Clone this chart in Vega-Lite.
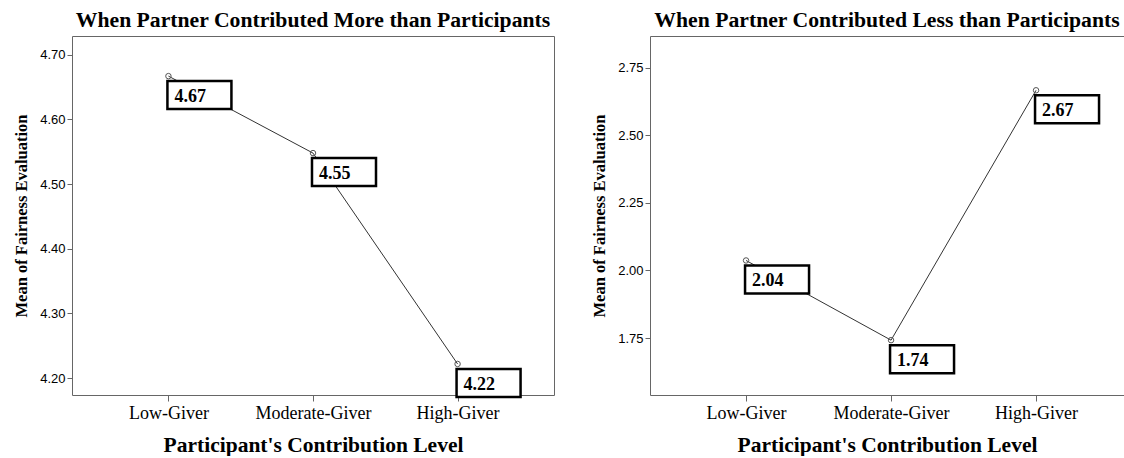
{
  "$schema": "https://vega.github.io/schema/vega-lite/v6.json",
  "background": "white",
  "padding": {"left": 13, "top": 9, "right": 0, "bottom": 0},
  "spacing": 36,
  "datasets": {
    "more": [
      {"level": "Low-Giver", "mean": 4.667},
      {"level": "Moderate-Giver", "mean": 4.548},
      {"level": "High-Giver", "mean": 4.222}
    ],
    "less": [
      {"level": "Low-Giver", "mean": 2.037},
      {"level": "Moderate-Giver", "mean": 1.742},
      {"level": "High-Giver", "mean": 2.667}
    ]
  },
  "config": {
    "view": {"stroke": "#666666", "strokeWidth": 1},
    "title": {"font": "Liberation Serif", "fontSize": 21.7, "fontWeight": "bold", "color": "black", "offset": 0},
    "axisY": {"domain": false, "grid": false, "ticks": true, "tickSize": 5, "tickColor": "#666666", "labelFont": "Liberation Sans", "labelFontSize": 13, "labelColor": "black", "labelPadding": 2, "titleFont": "Liberation Serif", "titleFontSize": 16.5, "titleFontWeight": "bold", "titleColor": "black", "titlePadding": 10},
    "axisX": {"domain": false, "grid": false, "ticks": true, "tickSize": 6, "tickColor": "#666666", "labelFont": "Liberation Serif", "labelFontSize": 18, "labelColor": "black", "labelAngle": 0, "labelPadding": 3, "titleFont": "Liberation Serif", "titleFontSize": 21.5, "titleFontWeight": "bold", "titleColor": "black", "titlePadding": 12}
  },
  "hconcat": [
    {
      "width": 482,
      "height": 359,
      "title": {"text": "When Partner Contributed More than Participants"},
      "data": {"name": "more"},
      "encoding": {
        "x": {"field": "level", "type": "nominal", "sort": ["Low-Giver", "Moderate-Giver", "High-Giver"], "scale": {"type": "point", "padding": 0.667}, "title": "Participant's Contribution Level"},
        "y": {"field": "mean", "type": "quantitative", "scale": {"domain": [4.174, 4.729], "nice": false, "zero": false}, "axis": {"values": [4.2, 4.3, 4.4, 4.5, 4.6, 4.7], "format": ".2f"}, "title": "Mean of Fairness Evaluation"}
      },
      "layer": [
        {"mark": {"type": "line", "color": "#333333", "strokeWidth": 1}},
        {"mark": {"type": "point", "shape": "circle", "size": 30, "filled": false, "stroke": "#555555", "strokeWidth": 1, "opacity": 1}},
        {"mark": {"type": "point", "shape": "M-0.067,0.333H4.2V2.2H-0.067Z", "size": 900, "filled": true, "fill": "white", "stroke": "black", "strokeWidth": 2.5, "opacity": 1}},
        {"mark": {"type": "text", "align": "left", "baseline": "alphabetic", "dx": 6, "dy": 26, "font": "Liberation Serif", "fontSize": 18, "fontWeight": "bold", "color": "black"}, "encoding": {"text": {"field": "mean", "type": "quantitative", "format": ".2f"}}}
      ]
    },
    {
      "width": 474,
      "height": 359,
      "title": {"text": "When Partner Contributed Less than Participants"},
      "data": {"name": "less"},
      "encoding": {
        "x": {"field": "level", "type": "nominal", "sort": ["Low-Giver", "Moderate-Giver", "High-Giver"], "scale": {"type": "point", "padding": 0.6345, "align": 0.522}, "title": "Participant's Contribution Level"},
        "y": {"field": "mean", "type": "quantitative", "scale": {"domain": [1.539, 2.868], "nice": false, "zero": false}, "axis": {"values": [1.75, 2.0, 2.25, 2.5, 2.75], "format": ".2f"}, "title": "Mean of Fairness Evaluation"}
      },
      "layer": [
        {"mark": {"type": "line", "color": "#333333", "strokeWidth": 1}},
        {"mark": {"type": "point", "shape": "circle", "size": 30, "filled": false, "stroke": "#555555", "strokeWidth": 1, "opacity": 1}},
        {"mark": {"type": "point", "shape": "M-0.067,0.333H4.2V2.2H-0.067Z", "size": 900, "filled": true, "fill": "white", "stroke": "black", "strokeWidth": 2.5, "opacity": 1}},
        {"mark": {"type": "text", "align": "left", "baseline": "alphabetic", "dx": 6, "dy": 26, "font": "Liberation Serif", "fontSize": 18, "fontWeight": "bold", "color": "black"}, "encoding": {"text": {"field": "mean", "type": "quantitative", "format": ".2f"}}}
      ]
    }
  ]
}
